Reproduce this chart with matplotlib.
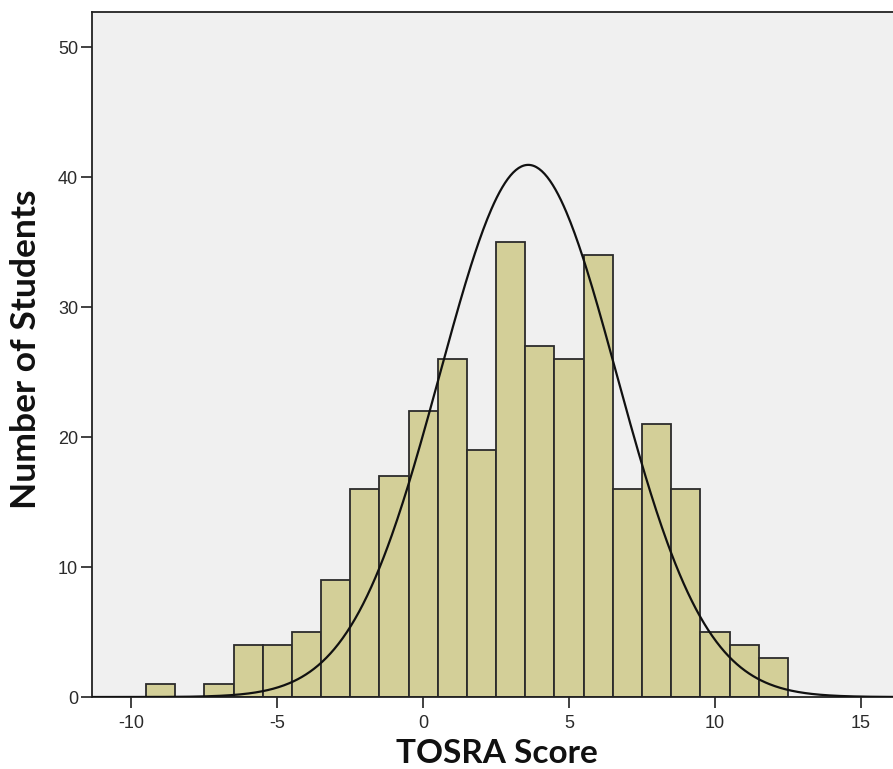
import numpy as np
import matplotlib
matplotlib.use("Agg")
import matplotlib.pyplot as plt

plt.rcParams["axes.unicode_minus"] = False
plt.rcParams["font.family"] = ["Liberation Sans", "DejaVu Sans"]

# Data
bin_centers = [-9, -8, -7, -6, -5, -4, -3, -2, -1, 0, 1, 2, 3, 4, 5, 6, 7, 8, 9, 10, 11, 12]
counts = [1, 0, 1, 4, 4, 5, 9, 16, 17, 22, 26, 19, 35, 27, 26, 34, 16, 21, 16, 5, 4, 3]
bin_width = 1.0
fit_mean = 3.6
fit_sd = 3.03
x_ticks = [-10, -5, 0, 5, 10, 15]
y_ticks = [0, 10, 20, 30, 40, 50]

fig = plt.figure(figsize=(8.93, 7.69), dpi=100)
ax = fig.add_axes([0.103, 0.0936, 0.897, 0.8906])
ax.set_facecolor("#F0F0F0")

ax.bar(bin_centers, counts, width=bin_width, color="#D3CF98",
       edgecolor="#2b2b2b", linewidth=1.3, zorder=2)

n_total = sum(counts)
xs = np.linspace(-11.5, 16.5, 600)
ys = n_total * bin_width / (fit_sd * np.sqrt(2 * np.pi)) * np.exp(-0.5 * ((xs - fit_mean) / fit_sd) ** 2)
ax.plot(xs, ys, color="#111111", linewidth=1.6, zorder=3)

ax.set_xlim(-11.35, 16.1)
ax.set_ylim(0, 52.7)
ax.set_xticks(x_ticks)
ax.set_yticks(y_ticks)
ax.tick_params(axis="both", direction="out", length=8, width=1.3, color="#333333",
               labelsize=13, labelcolor="#2a2a2a")
ax.tick_params(axis="x", pad=5)
ax.tick_params(axis="y", pad=2)
for s in ["left", "bottom", "top"]:
    ax.spines[s].set_color("#222222")
    ax.spines[s].set_linewidth(1.3)
ax.spines["right"].set_visible(False)

ax.set_xlabel("TOSRA Score", fontfamily="Lato", fontweight="bold", fontsize=24,
              color="#111111")
ax.set_ylabel("Number of Students", fontfamily="Lato", fontweight="bold", fontsize=25.5,
              color="#111111")
ax.xaxis.set_label_coords(0.506, -0.062)
ax.yaxis.set_label_coords(-0.062, 0.508)

fig.savefig("out.png", dpi=100)
